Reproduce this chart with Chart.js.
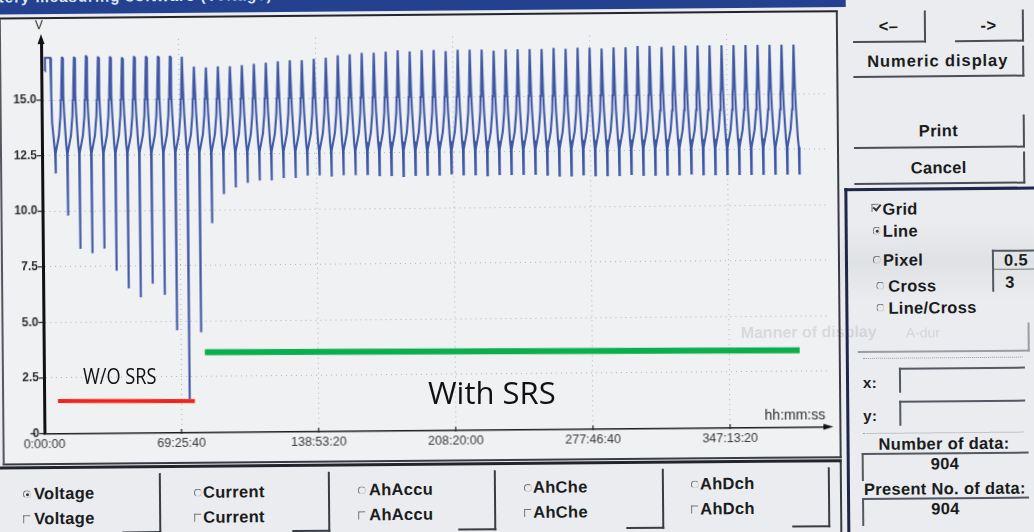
<!DOCTYPE html>
<html><head><meta charset="utf-8">
<script src="https://cdn.jsdelivr.net/npm/chart.js@4.4.1/dist/chart.umd.min.js"></script>
<style>
html,body{margin:0;padding:0;}
body{width:1034px;height:532px;overflow:hidden;background:#eaecef;position:relative;font-family:"Liberation Sans",Arial,sans-serif;}
#photo{position:absolute;left:0;top:0;width:1034px;height:532px;transform:rotate(-0.5deg);transform-origin:517px 266px;}
.a{position:absolute;}
.btn{position:absolute;border-right:2px solid #4b4e57;border-bottom:2px solid #4b4e57;box-sizing:border-box;display:flex;align-items:center;justify-content:center;font-weight:bold;font-size:16.5px;color:#1b1c20;letter-spacing:0.3px;}
.lbl{position:absolute;font-weight:bold;font-size:16.5px;color:#1b1c20;white-space:nowrap;letter-spacing:0.3px;line-height:16px;}
.radio{position:absolute;width:6px;height:6px;border-radius:50%;border-top:1px solid #777;border-left:1px solid #777;border-right:1px solid #ccc;border-bottom:1px solid #ccc;}
.radio.on::after{content:"";position:absolute;left:1.5px;top:1.5px;width:3px;height:3px;border-radius:50%;background:#333;}
.chk{position:absolute;width:6px;height:7px;border-top:1px solid #777;border-left:1px solid #777;}
.tick{position:absolute;width:3px;height:6px;border-right:2px solid #333;border-bottom:2px solid #333;transform:rotate(40deg);}
.sep{position:absolute;border-right:2px solid #3a3c44;border-bottom:2px solid #3a3c44;}
.sunk{position:absolute;border-top:2px solid #555963;border-left:2px solid #555963;}
.ovl{position:absolute;font-family:"Open Sans",sans-serif;color:#111;white-space:nowrap;line-height:1;}
</style></head>
<body>
<div id="photo">
  <div class="a" style="left:0;top:225px;width:1034px;height:80px;background:linear-gradient(to bottom,rgba(150,155,165,0),rgba(150,155,165,0.13),rgba(150,155,165,0));"></div>
  <div class="a" style="left:-20px;top:-15px;width:868px;height:25px;background:#23418e;overflow:hidden;">
    <div class="a" style="left:-6px;top:-1px;color:#dfe6f5;font-weight:bold;font-size:15px;white-space:nowrap;letter-spacing:1px;">Battery measuring software (Voltage)</div>
  </div>
  <div class="a" style="left:1px;top:13px;width:835px;height:444px;border-top:2.5px solid #23252b;border-right:2px solid #3a3c44;border-bottom:2px solid #3a3c44;border-left:2px solid #55575e;background:#eff1f3;"></div>
  <div class="a" style="left:740px;top:326px;font-weight:bold;font-size:16px;color:rgba(60,60,70,0.15);white-space:nowrap;">Manner of display</div>
  <div class="a" style="left:905px;top:328px;font-size:14px;color:rgba(60,60,70,0.15);white-space:nowrap;">A-dur</div>
  <div class="a" style="left:0;top:0;width:840px;height:460px;"><canvas id="c" width="840" height="460"></canvas></div>

  <!-- right panel -->
  <div class="btn" style="left:855px;top:14px;width:73px;height:32px;">&lt;–</div>
  <div class="btn" style="left:957px;top:14px;width:69px;height:32px;">-&gt;</div>
  <div class="btn" style="left:855px;top:50px;width:171px;height:31px;letter-spacing:0.9px;">Numeric display</div>
  <div class="btn" style="left:855px;top:119px;width:171px;height:33px;">Print</div>
  <div class="btn" style="left:855px;top:156px;width:171px;height:32px;">Cancel</div>
  <div class="a" style="left:845px;top:191px;width:210px;height:360px;border-top:3px solid #1f2748;border-left:3px solid #1f2748;"></div>
  <div class="chk" style="left:872px;top:207px;"></div><div class="tick" style="left:875px;top:206px;"></div><div class="lbl" style="left:883px;top:204px;">Grid</div>
  <div class="radio on" style="left:873px;top:230px;"></div><div class="lbl" style="left:883px;top:226px;">Line</div>
  <div class="radio" style="left:873px;top:259px;"></div><div class="lbl" style="left:883px;top:255px;">Pixel</div>
  <div class="radio" style="left:876px;top:285px;"></div><div class="lbl" style="left:888px;top:281px;">Cross</div>
  <div class="radio" style="left:876px;top:307px;"></div><div class="lbl" style="left:888px;top:303px;">Line/Cross</div>
  <div class="sunk" style="left:992px;top:254px;width:50px;height:40px;"></div>
  <div class="a" style="left:994px;top:273px;width:45px;border-top:1px solid #777;"></div>
  <div class="lbl" style="left:1004px;top:256px;">0.5</div>
  <div class="lbl" style="left:1005px;top:278px;">3</div>
  <div class="a" style="left:857px;top:327px;width:170px;height:27px;border-right:2px solid #9a9ca3;border-bottom:2px solid #9a9ca3;"></div>
  <div class="a" style="left:862px;top:361px;width:160px;border-top:1px dotted #9a9ca3;"></div>
  <div class="lbl" style="left:862px;top:378px;font-size:15px;">x:</div>
  <div class="sunk" style="left:898px;top:371px;width:124px;height:23px;"></div>
  <div class="lbl" style="left:862px;top:411px;font-size:15px;">y:</div>
  <div class="sunk" style="left:898px;top:404px;width:124px;height:23px;"></div>
  <div class="a" style="left:862px;top:436px;width:160px;border-top:1px dotted #9a9ca3;"></div>
  <div class="lbl" style="left:877px;top:439px;">Number of data:</div>
  <div class="sunk" style="left:860px;top:456px;width:165px;height:26px;"></div>
  <div class="lbl" style="left:929px;top:459px;">904</div>
  <div class="lbl" style="left:862px;top:484px;">Present No. of data:</div>
  <div class="sunk" style="left:860px;top:501px;width:165px;height:26px;"></div>
  <div class="lbl" style="left:929px;top:504px;">904</div>

  <!-- bottom panel -->
  <div class="a" style="left:-10px;top:462px;width:848px;height:80px;border-top:3px solid #22242c;border-right:2px solid #3a3c44;"></div>
  <div class="radio on" style="left:21px;top:486px;"></div><div class="lbl" style="left:32px;top:481px;">Voltage</div>
  <div class="chk" style="left:21px;top:511px;"></div><div class="lbl" style="left:32px;top:506px;">Voltage</div>
  <div class="sep" style="left:120px;top:470px;width:37px;height:58px;"></div>
  <div class="radio" style="left:192px;top:486px;"></div><div class="lbl" style="left:201px;top:481px;">Current</div>
  <div class="chk" style="left:192px;top:511px;"></div><div class="lbl" style="left:201px;top:506px;">Current</div>
  <div class="sep" style="left:290px;top:470px;width:36px;height:58px;"></div>
  <div class="radio" style="left:356px;top:485px;"></div><div class="lbl" style="left:367px;top:480px;">AhAccu</div>
  <div class="chk" style="left:356px;top:510px;"></div><div class="lbl" style="left:367px;top:505px;">AhAccu</div>
  <div class="sep" style="left:456px;top:470px;width:36px;height:58px;"></div>
  <div class="radio" style="left:522px;top:484px;"></div><div class="lbl" style="left:531px;top:479px;">AhChe</div>
  <div class="chk" style="left:522px;top:509px;"></div><div class="lbl" style="left:531px;top:504px;">AhChe</div>
  <div class="sep" style="left:624px;top:470px;width:36px;height:58px;"></div>
  <div class="radio" style="left:689px;top:482px;"></div><div class="lbl" style="left:698px;top:477px;">AhDch</div>
  <div class="chk" style="left:689px;top:507px;"></div><div class="lbl" style="left:698px;top:502px;">AhDch</div>
  <div class="sep" style="left:790px;top:470px;width:36px;height:58px;"></div>
</div>

<div class="ovl" style="left:83px;top:366px;font-size:21px;transform:scaleX(0.865);transform-origin:0 0;">W/O SRS</div>
<div class="ovl" style="left:428px;top:377px;font-size:31px;">With SRS</div>

<script>
// ---- axis ticks ----
const xTickValues = [0, 69.4444, 138.8889, 208.3333, 277.7778, 347.2222]; // hours
const xTickLabels = ['0:00:00', '69:25:40', '138:53:20', '208:20:00', '277:46:40', '347:13:20'];
const yTickValues = [0, 2.5, 5, 7.5, 10, 12.5, 15];
const yTickLabels = ['0', '2.5', '5.0', '7.5', '10.0', '12.5', '15.0'];
const xMaxHours = 397;
const yMaxVolts = 17.7;

// ---- voltage record (hours, volts) ----
const leadHours = [1.8, 1.9, 4.6, 4.95, 5.25, 6.35, 6.65];
const leadVolts = [16.3, 16.9, 16.9, 15.2, 14.0, 12.9, 12.6];

const troughHours = [6.83, 12.90, 18.98, 25.05, 31.13, 37.20, 43.27, 49.35, 55.42, 61.50,
  67.57, 73.64, 79.72, 85.79, 91.87, 97.94, 104.01, 110.09, 116.16, 122.24,
  128.31, 134.38, 140.46, 146.53, 152.61, 158.68, 164.75, 170.83, 176.90, 182.98,
  189.05, 195.12, 201.20, 207.27, 213.35, 219.42, 225.49, 231.57, 237.64, 243.72,
  249.79, 255.86, 261.94, 268.01, 274.09, 280.16, 286.23, 292.31, 298.38, 304.46,
  310.53, 316.60, 322.68, 328.75, 334.83, 340.90, 346.97, 353.05, 359.12, 365.20,
  371.27, 377.34, 383.42];
const troughVolts = [11.7, 9.8, 8.3, 8.1, 8.3, 7.3, 6.5, 6.1, 6.7, 6.2,
  4.6, 1.5, 4.5, 9.4, 10.7, 11.0, 11.2, 11.3, 11.3, 11.4,
  11.4, 11.5, 11.5, 11.45, 11.5, 11.5, 11.55, 11.5, 11.5, 11.45,
  11.5, 11.5, 11.5, 11.55, 11.5, 11.5, 11.45, 11.5, 11.5, 11.5,
  11.5, 11.45, 11.4, 11.4, 11.45, 11.4, 11.4, 11.4, 11.45, 11.4,
  11.4, 11.4, 11.4, 11.45, 11.4, 11.4, 11.4, 11.4, 11.4, 11.4,
  11.4, 11.4, 11.4];
const peakVolts = [16.9, 16.9, 16.95, 16.9, 16.9, 16.85, 16.9, 16.9, 16.9, 16.9,
  16.9, 16.45, 16.4, 16.45, 16.45, 16.5, 16.55, 16.6, 16.65, 16.7,
  16.7, 16.75, 16.8, 16.9, 16.95, 17.0, 17.0, 17.05, 17.1, 17.05,
  17.1, 17.1, 17.05, 17.1, 17.1, 17.1, 17.05, 17.1, 17.1, 17.1,
  17.1, 17.15, 17.1, 17.15, 17.15, 17.1, 17.15, 17.15, 17.2, 17.2,
  17.15, 17.2, 17.2, 17.2, 17.2, 17.2, 17.2, 17.2, 17.2, 17.2,
  17.2, 17.2];
// shape of one charge/discharge cycle after each trough (fraction of cycle, volts)
const cyclePhase = [0.03, 0.30, 0.44, 0.48, 0.52, 0.60, 0.63, 0.69, 0.75, 0.90, 0.97];
const cycleVolts = [12.6, 13.4, 14.3, 15.0, 15.3, 'peak', 'peak', 15.2, 14.4, 13.0, 12.6];
const tailHours = [383.6];
const tailVolts = [12.6];

// ---- annotation bars ----
const srsOffHours = [7.0, 76.3];
const srsOffVolts = [1.46, 1.41];
const srsOnHours = [81.6, 382.8];
const srsOnVolts = [3.60, 3.45];

const voltagePoints = [];
leadHours.forEach((h, i) => voltagePoints.push({x: h, y: leadVolts[i]}));
troughHours.forEach((h, k) => {
  voltagePoints.push({x: h, y: troughVolts[k]});
  if (k < peakVolts.length) {
    const span = troughHours[k + 1] - h;
    cyclePhase.forEach((p, i) => voltagePoints.push({
      x: h + p * span,
      y: cycleVolts[i] === 'peak' ? peakVolts[k] : cycleVolts[i]
    }));
  }
});
tailHours.forEach((h, i) => voltagePoints.push({x: h, y: tailVolts[i]}));

const toPts = (xs, ys) => xs.map((v, i) => ({x: v, y: ys[i]}));

const axisDecor = {
  id: 'axisDecor',
  afterDraw(chart) {
    const {ctx, scales: {x, y}} = chart;
    const ax = x.getPixelForValue(0);
    const top = y.getPixelForValue(yMaxVolts);
    const base = y.getPixelForValue(0);
    const right = x.getPixelForValue(xMaxHours);
    ctx.save();
    ctx.fillStyle = '#111';
    ctx.beginPath();
    ctx.moveTo(ax, top - 6); ctx.lineTo(ax - 3.5, top + 4); ctx.lineTo(ax + 3.5, top + 4);
    ctx.closePath(); ctx.fill();
    ctx.beginPath();
    ctx.moveTo(right + 5, base); ctx.lineTo(right - 5, base - 3); ctx.lineTo(right - 5, base + 3);
    ctx.closePath(); ctx.fill();
    ctx.strokeStyle = '#222'; ctx.lineWidth = 1.2;
    xTickValues.forEach(v => {
      const px = x.getPixelForValue(v);
      ctx.beginPath(); ctx.moveTo(px, base - 3.5); ctx.lineTo(px, base + 1.5); ctx.stroke();
    });
    yTickValues.forEach(v => {
      const py = y.getPixelForValue(v);
      ctx.beginPath(); ctx.moveTo(ax - 5, py); ctx.lineTo(ax, py); ctx.stroke();
    });
    ctx.beginPath(); ctx.moveTo(ax - 14, base); ctx.lineTo(ax - 9, base); ctx.stroke();
    ctx.fillStyle = '#2c2c2c';
    ctx.font = '12px "Liberation Sans", Arial, sans-serif';
    ctx.textAlign = 'center'; ctx.textBaseline = 'middle';
    ctx.fillText('V', ax - 2, top - 14);
    ctx.font = '14px "Liberation Sans", Arial, sans-serif';
    ctx.textAlign = 'right';
    ctx.fillText('hh:mm:ss', right - 3, base - 11);
    ctx.restore();
  }
};

new Chart(document.getElementById('c'), {
  type: 'line',
  data: {
    datasets: [
      {data: voltagePoints, borderColor: '#3f58a6', borderWidth: 2.1, pointRadius: 0, tension: 0, order: 2},
      {data: toPts(srsOffHours, srsOffVolts), borderColor: '#f2231a', borderWidth: 4, pointRadius: 0, borderCapStyle: 'butt', order: 1},
      {data: toPts(srsOnHours, srsOnVolts), borderColor: '#0bae4c', borderWidth: 6, pointRadius: 0, borderCapStyle: 'butt', order: 1}
    ]
  },
  options: {
    responsive: false, animation: false, devicePixelRatio: 1,
    layout: {padding: {left: 0, right: 13, top: 36, bottom: 8.5}},
    plugins: {legend: {display: false}, tooltip: {enabled: false}},
    scales: {
      x: {
        type: 'linear', min: 0, max: xMaxHours,
        afterFit(s) { s.height = 22; },
        afterBuildTicks(s) { s.ticks = xTickValues.map(v => ({value: v})); },
        ticks: {callback: (v, i) => xTickLabels[i], autoSkip: false, maxRotation: 0, padding: 4,
          color: '#3a3a3a', font: {family: '"Liberation Sans", Arial, sans-serif', size: 12.5}},
        grid: {drawTicks: false, color: 'rgba(110,112,120,0.45)', lineWidth: c => (c.tick && c.tick.value === 0) ? 0 : 1},
        border: {color: '#1e1e1e', width: 1.5, dash: [1, 4]}
      },
      y: {
        min: 0, max: yMaxVolts,
        afterFit(s) { s.width = 43; },
        afterBuildTicks(s) { s.ticks = yTickValues.map(v => ({value: v})); },
        ticks: {callback: (v, i) => yTickLabels[i], autoSkip: false, padding: 5,
          color: '#2e2e2e', font: {family: '"Liberation Sans", Arial, sans-serif', size: 12, weight: 'bold'}},
        grid: {drawTicks: false, color: 'rgba(110,112,120,0.45)', lineWidth: c => (c.tick && c.tick.value === 0) ? 0 : 1},
        border: {color: '#111', width: 3, dash: [1, 4]}
      }
    }
  },
  plugins: [axisDecor]
});
</script>
</body></html>
